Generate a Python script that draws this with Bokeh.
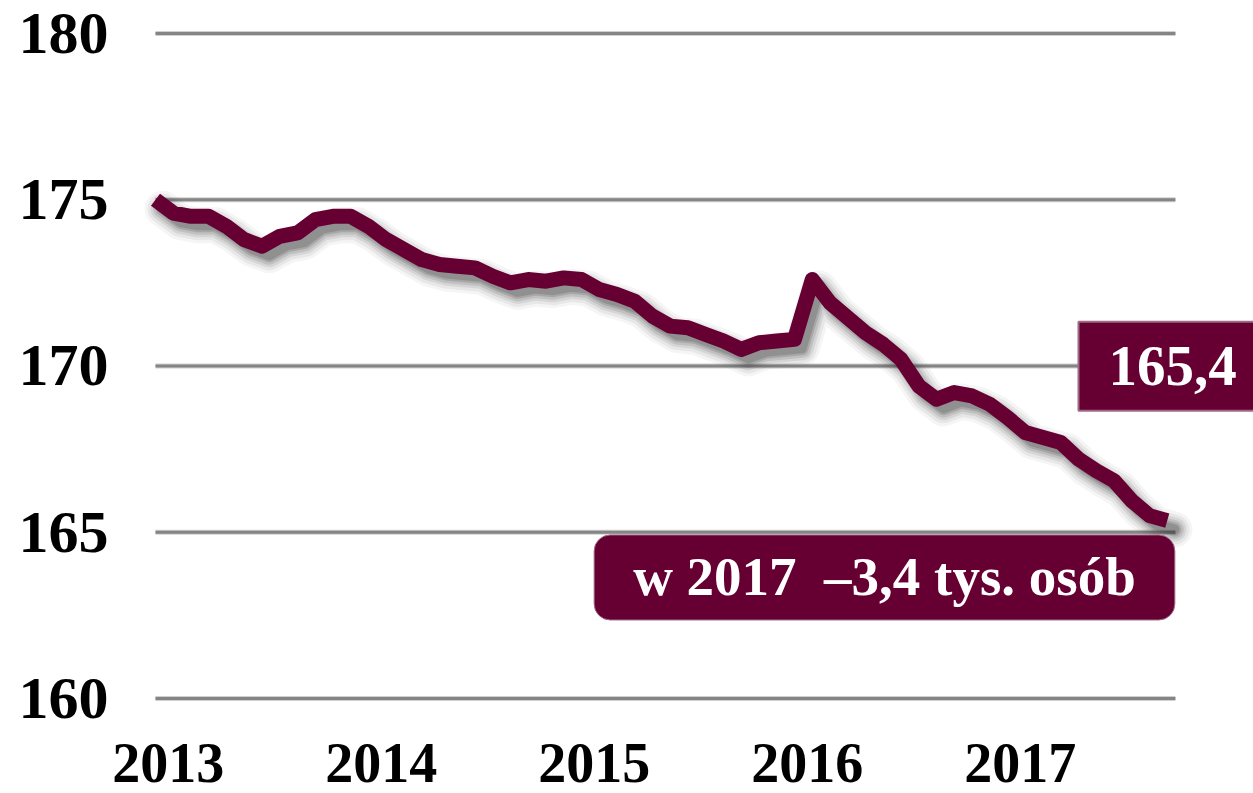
from bokeh.plotting import figure
from bokeh.models import FixedTicker, CustomJSTickFormatter, Label, Range1d
from bokeh.embed import file_html
from bokeh.resources import INLINE

# monthly values, January 2013 onwards (thousand persons)
values = [175.0, 174.6, 174.5, 174.5, 174.2, 173.8, 173.6, 173.9, 174.0, 174.4, 174.5, 174.5,
          174.2, 173.8, 173.5, 173.2, 173.05, 173.0, 172.95, 172.7, 172.5, 172.6, 172.55, 172.65,
          172.6, 172.3, 172.15, 171.95, 171.5, 171.2, 171.15, 170.95, 170.75, 170.5, 170.7, 170.75,
          170.8, 172.6, 171.9, 171.45, 171.0, 170.65, 170.2, 169.4, 169.0, 169.2, 169.1, 168.85,
          168.45, 168.0, 167.85, 167.7, 167.2, 166.85, 166.55, 165.95, 165.5, 165.35]
start_year = 2013
year_labels = ["2013", "2014", "2015", "2016", "2017"]
y_ticks = [160, 165, 170, 175, 180]
last_label = "165,4"
note_label = "w 2017\u00a0 \u20133,4 tys. os\u00f3b"

x = [start_year + i / 12 for i in range(len(values))]

MAROON = "#660033"
FONT = "Liberation Serif"
M = 1 / 12  # one month in x units

p = figure(width=1253, height=793, output_backend="svg", toolbar_location=None,
           x_range=Range1d(start_year - 8.732 * M, start_year + 61.859 * M),
           y_range=Range1d(157.143, 180.992),
           min_border_left=0, min_border_right=0, min_border_top=0, min_border_bottom=0)
p.outline_line_color = None
p.background_fill_color = "white"
p.border_fill_color = "white"
p.xgrid.grid_line_color = None
p.ygrid.grid_line_color = None

# horizontal grid lines at the y ticks, spanning the data period
grid_x0 = x[0]
grid_x1 = x[-1] + 0.46 * M
p.segment(x0=[grid_x0] * len(y_ticks), y0=y_ticks, x1=[grid_x1] * len(y_ticks), y1=y_ticks,
          line_color="#d0d0d0", line_width=5)
p.segment(x0=[grid_x0] * len(y_ticks), y0=y_ticks, x1=[grid_x1] * len(y_ticks), y1=y_ticks,
          line_color="#858585", line_width=3)

# axes
p.yaxis.ticker = FixedTicker(ticks=y_ticks)
p.xaxis.ticker = FixedTicker(ticks=[int(y) + 0.06 for y in year_labels])
p.xaxis.formatter = CustomJSTickFormatter(code="return String(Math.floor(tick))")
p.yaxis.fixed_location = x[0]
p.xaxis.fixed_location = y_ticks[0]
for ax in (p.xaxis, p.yaxis):
    ax.axis_line_color = None
    ax.major_tick_line_color = None
    ax.minor_tick_line_color = None
    ax.major_tick_out = 0
    ax.major_tick_in = 0
    ax.major_label_text_font = FONT
    ax.major_label_text_font_style = "bold"
    ax.major_label_text_color = "black"
p.yaxis.major_label_text_font_size = "60px"
p.yaxis.major_label_standoff = 47
p.xaxis.major_label_text_font_size = "56px"
p.xaxis.major_label_standoff = 45

# shadow (offset soft copies)
dx = 0.4 * M
dy = -0.27
xs = [v + dx for v in x]
ys = [v + dy for v in values]
for w, a in [(36, 0.05), (30, 0.07), (24, 0.10), (19, 0.13), (14, 0.18), (10, 0.2)]:
    p.line(xs, ys, line_color="#383838", line_alpha=a, line_width=w, line_join="round", line_cap="round")

# main line
p.line(x, values, line_color=MAROON, line_width=15, line_join="round", line_cap="butt")

# value box
p.add_layout(Label(x=start_year + 52.0 * M, y=169.99, text=last_label, text_align="left",
                   text_baseline="middle", text_font=FONT, text_font_style="bold",
                   text_font_size="57px", text_color="white",
                   background_fill_color=MAROON, border_line_color="#a06a85", border_line_width=2,
                   padding=dict(left=30, right=30, top=25, bottom=26)))

# note box
p.add_layout(Label(x=start_year + 41.07 * M, y=163.64, text=note_label, text_align="center",
                   text_baseline="middle", text_font=FONT, text_font_style="bold",
                   text_font_size="55px", text_color="white",
                   background_fill_color=MAROON, border_line_color="#a06a85", border_line_width=1,
                   border_radius=16, padding=dict(left=39, right=39, top=11, bottom=13)))

open("out.html", "w").write(file_html(p, INLINE))
